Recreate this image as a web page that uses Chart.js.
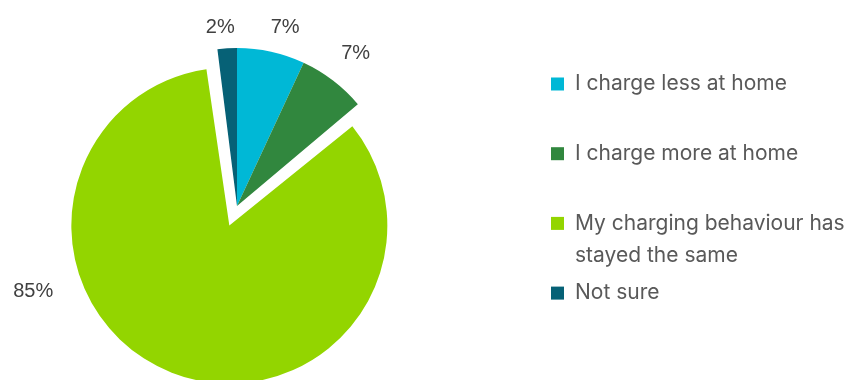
<!DOCTYPE html>
<html>
<head>
<meta charset="utf-8">
<script src="https://cdn.jsdelivr.net/npm/chart.js@4"></script>
<style>
  html, body { margin: 0; padding: 0; background: #fff; }
  #wrap { width: 848px; height: 380px; }
</style>
</head>
<body>
<div id="wrap"><canvas id="homeChargingChart" width="848" height="380"></canvas></div>
<script>
// Survey answers: change in home charging
const categories = [
    'I charge less at home',
    'I charge more at home',
    ['My charging behaviour has', 'stayed the same'],
    'Not sure'
];
const shares = [7, 7, 85, 2];
const sliceColors = ['#00B8D6', '#31873E', '#93D500', '#066176'];
// the arc is moved by offset/4, so 84 pulls the big slice out ~21px
const pulledOut = [0, 0, 84, 0];

// nudges for the outside labels (degrees around, px from centre)
const labelAngleShift = [2.6, 0.5, 50, -1.8];
const labelDistance = [185, 193, 207, 179];

// the arc path also grows by offset/4, take that back so every slice has the same radius
const keepRadius = {
    id: 'keepRadius',
    afterDatasetsUpdate(chart) {
        const meta = chart.getDatasetMeta(0);
        const ds = chart.data.datasets[0];
        meta.data.forEach((arc, i) => {
            arc.outerRadius -= (ds.offset[i] || 0) / 4;
        });
    }
};

const percentLabels = {
    id: 'percentLabels',
    afterDatasetsDraw(chart) {
        const ctx = chart.ctx;
        const meta = chart.getDatasetMeta(0);
        const ds = chart.data.datasets[0];
        ctx.save();
        ctx.font = '20px "Liberation Sans", Arial, sans-serif';
        ctx.fillStyle = '#404040';
        ctx.textAlign = 'center';
        ctx.textBaseline = 'middle';
        meta.data.forEach((arc, i) => {
            const mid = (arc.startAngle + arc.endAngle) / 2;
            const shift = (ds.offset[i] || 0) / 4;
            const cx = arc.x + Math.cos(mid) * shift;
            const cy = arc.y + Math.sin(mid) * shift;
            const a = mid + labelAngleShift[i] * Math.PI / 180;
            const d = labelDistance[i];
            ctx.fillText(ds.data[i] + '%', cx + Math.cos(a) * d, cy + Math.sin(a) * d);
        });
        ctx.restore();
    }
};

const sideLegend = {
    id: 'sideLegend',
    afterDraw(chart) {
        const ctx = chart.ctx;
        const ds = chart.data.datasets[0];
        const x = 551, top = 84, step = 69.7, lineGap = 32, box = 13;
        ctx.save();
        ctx.font = '21px Inter, "Noto Sans", sans-serif';
        ctx.textBaseline = 'middle';
        ctx.textAlign = 'left';
        chart.data.labels.forEach((label, i) => {
            const y = top + i * step;
            ctx.fillStyle = ds.backgroundColor[i];
            ctx.fillRect(x, y - box / 2, box, box);
            ctx.fillStyle = '#595959';
            const lines = Array.isArray(label) ? label : [label];
            lines.forEach((line, j) => ctx.fillText(line, x + 24, y + j * lineGap));
        });
        ctx.restore();
    }
};

const ctx = document.getElementById('homeChargingChart').getContext('2d');
new Chart(ctx, {
    type: 'pie',
    data: {
        labels: categories,
        datasets: [{
            data: shares,
            backgroundColor: sliceColors,
            borderWidth: 0,
            offset: pulledOut,
            clip: false
        }]
    },
    options: {
        responsive: false,
        animation: false,
        radius: 158,
        layout: {
            padding: { left: 0, right: 374, top: 32, bottom: 0 }
        },
        plugins: {
            legend: { display: false },
            tooltip: { enabled: false }
        }
    },
    plugins: [keepRadius, percentLabels, sideLegend]
});
</script>
</body>
</html>
